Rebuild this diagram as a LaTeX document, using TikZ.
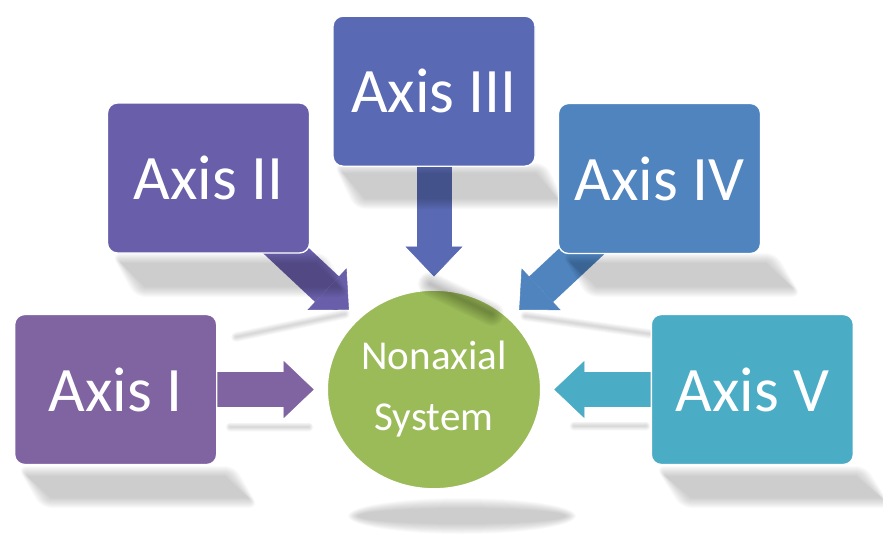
\documentclass[tikz,border=0pt]{standalone}
\usepackage{fontspec}
\setmainfont{Carlito}
\usetikzlibrary{arrows.meta, positioning, shapes.geometric}

\definecolor{axisone}{HTML}{8064A2}
\definecolor{axistwo}{HTML}{685EA9}
\definecolor{axisthree}{HTML}{5A69B4}
\definecolor{axisfour}{HTML}{4F84BE}
\definecolor{axisfive}{HTML}{4BACC6}
\definecolor{hubgreen}{HTML}{9BBB59}

\pgfdeclarelayer{arrowlayer}
\pgfdeclarelayer{shadowlayer}
\pgfsetlayers{arrowlayer,shadowlayer,main}

% soft shadow of a box: x1 x2 ytop ybottom skew, grown a little each pass
\newcommand{\boxshadow}[5]{%
    \foreach \e in {0,...,10}{%
        \fill[shadowfill, rounded corners=\e*0.75pt]
            ({#1-\e},{#3-\e}) -- ({#2+\e},{#3-\e}) --
            ({#2+#5+\e},{#4+\e}) -- ({#1+#5-\e},{#4+\e}) -- cycle;}}
% soft streak under an arrow: max width, path
\newcommand{\streakshadow}[2]{%
    \foreach \e in {1,...,10}{%
        \draw[streakline, line width=\e*#1*0.075pt] #2;}}

\begin{document}
\begin{tikzpicture}[x=0.75pt, y=-0.75pt,
    axisbox/.style={rectangle, rounded corners=7.5pt, draw=white, line width=1pt,
        minimum width=151.5pt, minimum height=112.5pt, text=white,
        font=\fontsize{47.5}{50}\selectfont},
    hub/.style={ellipse, fill=hubgreen, draw=white, line width=1pt, inner sep=0pt,
        minimum width=160pt, minimum height=149pt, text=white, align=center,
        font=\fontsize{30.8}{45.75}\selectfont},
    flow/.style={line width=26.25pt, shorten >=9.75pt,
        -{Triangle[length=22.5pt, width=42.75pt, line width=0.4pt]}},
    shadowfill/.style={fill=black, fill opacity=0.02},
    streakline/.style={draw=black, draw opacity=0.016, line cap=round, line join=round}]

    \useasboundingbox (0,0) rectangle (883,540);

    \begin{pgfonlayer}{arrowlayer}
        \node[hub] (nonax) at (434,389.5) {Nonaxial\\System};
    \end{pgfonlayer}

    \node[axisbox, fill=axisone] (ax1) [left=82pt of nonax] {Axis I};
    \node[axisbox, fill=axistwo] (ax2) at (208.5,178) {Axis II};
    \node[axisbox, fill=axisthree] (ax3) [above=92pt of nonax] {Axis III};
    \node[axisbox, fill=axisfour] (ax4) at (659.5,178.5) {Axis IV};
    \node[axisbox, fill=axisfive] (ax5) [right=82pt of nonax] {Axis V};

    \begin{pgfonlayer}{arrowlayer}
        \draw[flow, axisone] (ax1.center) -- (nonax);
        \draw[flow, axistwo] (ax2.center) -- (nonax);
        \draw[flow, axisthree] (ax3.center) -- (nonax);
        \draw[flow, axisfour] (ax4.center) -- (nonax);
        \draw[flow, axisfive] (ax5.center) -- (nonax);
    \end{pgfonlayer}

    \begin{pgfonlayer}{shadowlayer}
        % boxes
        \boxshadow{27}{225}{476}{498}{24}
        \boxshadow{121}{316}{263}{287}{24}
        \boxshadow{343}{536}{173}{199}{22}
        \boxshadow{571}{766}{263}{287}{26}
        \boxshadow{665}{856}{476}{498}{26}
        % arrows
        \streakshadow{9}{(230,427) -- (309,427)}
        \streakshadow{9}{(574,426) -- (646,426)}
        \streakshadow{10}{(236,337) -- (345,314)}
        \streakshadow{10}{(525,316) -- (650,334)}
        \begin{scope}[streakline/.append style={draw opacity=0.028}]
            \streakshadow{24}{(430,284) -- (492,314)}
        \end{scope}
        % hub
        \foreach \e in {0,...,10}
            \fill[shadowfill] (462,516) ellipse [x radius=104+\e, y radius=8+\e];
    \end{pgfonlayer}

\end{tikzpicture}
\end{document}
